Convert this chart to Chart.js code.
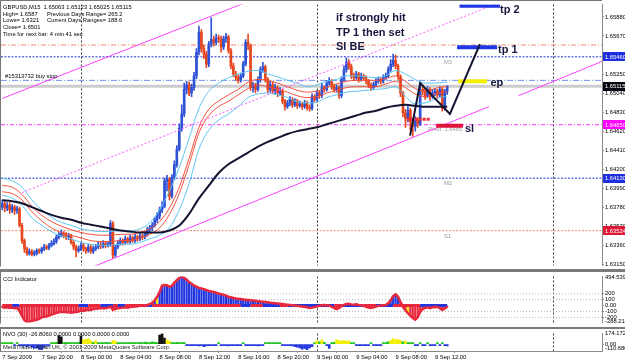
<!DOCTYPE html>
<html><head><meta charset="utf-8">
<script src="https://cdn.jsdelivr.net/npm/chart.js@4.4.1/dist/chart.umd.min.js"></script>
<style>
html,body{margin:0;padding:0;background:#fff;overflow:hidden;}
#wrap{position:relative;width:625px;height:362px;background:#fff;overflow:hidden;}
canvas{position:absolute;left:0;display:block;}
.sep{position:absolute;left:0;width:625px;background:#7b7b7b;}
</style></head>
<body><div id="wrap">
<canvas id="cMain" width="625" height="270" style="top:0"></canvas>
<div class="sep" style="top:269px;height:3px"></div>
<canvas id="cCci" width="625" height="55" style="top:272px"></canvas>
<div class="sep" style="top:327px;height:2px"></div>
<canvas id="cNvo" width="625" height="33" style="top:329px"></canvas>
</div>
<script>
// ================= DATA =================
const timeLabels = ['7 Sep 2009','7 Sep 20:00','8 Sep 00:00','8 Sep 04:00','8 Sep 08:00','8 Sep 12:00','8 Sep 16:00','8 Sep 20:00','9 Sep 00:00','9 Sep 04:00','9 Sep 08:00','9 Sep 12:00'];
const priceTicks = [1.65880,1.65670,1.65460,1.65250,1.65040,1.64830,1.64620,1.64410,1.64200,1.63990,1.63780,1.63570,1.63360,1.63150];
const daySeparators = [32,128,224];

const opens = [
1.6378,1.6382,1.6377,1.6380,1.6375,1.6378,1.6374,1.6376,1.6358,1.6341,
1.6332,1.6327,1.6329,1.6326,1.6327,1.6330,1.6329,1.6332,1.6334,1.6333,
1.6336,1.6338,1.6340,1.6345,1.6347,1.6349,1.6347,1.6345,1.6346,1.6339,
1.6334,1.6330,1.6332,1.6336,1.6332,1.6330,1.6334,1.6329,1.6332,1.6334,
1.6336,1.6335,1.6338,1.6336,1.6337,1.6360,1.6325,1.6334,1.6338,1.6341,
1.6339,1.6343,1.6340,1.6344,1.6341,1.6345,1.6343,1.6346,1.6345,1.6348,
1.6353,1.6355,1.6358,1.6364,1.6368,1.6375,1.6379,1.6407,1.6409,1.6390,
1.6411,1.6425,1.6442,1.6465,1.6481,1.6508,1.6513,1.6504,1.6510,1.6523,
1.6549,1.6571,1.6553,1.6547,1.6536,1.6558,1.6563,1.6560,1.6565,1.6564,
1.6555,1.6564,1.6566,1.6551,1.6534,1.6525,1.6521,1.6518,1.6523,1.6536,
1.6560,1.6556,1.6510,1.6513,1.6508,1.6519,1.6530,1.6533,1.6519,1.6508,
1.6513,1.6506,1.6510,1.6504,1.6506,1.6495,1.6489,1.6493,1.6497,1.6491,
1.6495,1.6490,1.6492,1.6489,1.6493,1.6488,1.6487,1.6500,1.6497,1.6504,
1.6501,1.6510,1.6508,1.6515,1.6517,1.6511,1.6508,1.6510,1.6501,1.6519,
1.6530,1.6538,1.6533,1.6523,1.6521,1.6525,1.6519,1.6523,1.6521,1.6517,
1.6513,1.6510,1.6513,1.6517,1.6519,1.6517,1.6521,1.6523,1.6530,1.6536,
1.6540,1.6534,1.6522,1.6504,1.6482,1.6476,1.6485,1.6472,1.6467,1.6474,
1.6470,1.6508,1.6506,1.6501,1.6508,1.6500,1.6504,1.6506,1.6502,1.6508,
1.6487,1.6506];
const highs = [
1.6386,1.6385,1.6383,1.6383,1.6381,1.6380,1.6379,1.6378,1.6360,1.6343,
1.6334,1.6332,1.6331,1.6330,1.6332,1.6332,1.6334,1.6337,1.6336,1.6338,
1.6341,1.6343,1.6347,1.6350,1.6353,1.6351,1.6350,1.6349,1.6348,1.6341,
1.6336,1.6335,1.6339,1.6338,1.6334,1.6337,1.6336,1.6335,1.6337,1.6339,
1.6339,1.6341,1.6340,1.6340,1.6363,1.6362,1.6336,1.6341,1.6344,1.6343,
1.6346,1.6345,1.6347,1.6346,1.6348,1.6347,1.6349,1.6348,1.6351,1.6356,
1.6358,1.6361,1.6367,1.6372,1.6378,1.6384,1.6410,1.6413,1.6411,1.6414,
1.6429,1.6446,1.6470,1.6491,1.6515,1.6517,1.6516,1.6514,1.6527,1.6553,
1.6578,1.6574,1.6557,1.6550,1.6561,1.6587,1.6567,1.6569,1.6568,1.6567,
1.6567,1.6570,1.6568,1.6553,1.6537,1.6528,1.6524,1.6526,1.6539,1.6563,
1.6569,1.6558,1.6516,1.6515,1.6522,1.6533,1.6538,1.6535,1.6521,1.6517,
1.6516,1.6514,1.6512,1.6510,1.6508,1.6497,1.6496,1.6500,1.6499,1.6498,
1.6497,1.6495,1.6494,1.6496,1.6495,1.6491,1.6503,1.6502,1.6507,1.6506,
1.6515,1.6512,1.6518,1.6521,1.6519,1.6514,1.6513,1.6512,1.6522,1.6534,
1.6543,1.6541,1.6536,1.6526,1.6528,1.6527,1.6526,1.6525,1.6523,1.6519,
1.6515,1.6516,1.6520,1.6522,1.6521,1.6524,1.6526,1.6533,1.6541,1.6547,
1.6546,1.6536,1.6524,1.6506,1.6486,1.6489,1.6487,1.6475,1.6478,1.6477,
1.6512,1.6513,1.6509,1.6511,1.6510,1.6508,1.6509,1.6508,1.6511,1.6510,
1.6508,1.65123];
const lows = [
1.6375,1.6373,1.6374,1.6371,1.6372,1.6370,1.6371,1.6356,1.6338,1.6328,
1.6325,1.6325,1.6324,1.6324,1.6325,1.6327,1.6327,1.6330,1.6331,1.6331,
1.6334,1.6336,1.6338,1.6343,1.6345,1.6344,1.6342,1.6342,1.6337,1.6331,
1.6323,1.6328,1.6330,1.6329,1.6327,1.6328,1.6327,1.6327,1.6330,1.6332,
1.6332,1.6333,1.6333,1.6334,1.6335,1.6321,1.6323,1.6332,1.6336,1.6336,
1.6337,1.6338,1.6338,1.6339,1.6339,1.6340,1.6341,1.6342,1.6343,1.6346,
1.6350,1.6352,1.6356,1.6361,1.6365,1.6372,1.6377,1.6396,1.6386,1.6388,
1.6408,1.6422,1.6440,1.6462,1.6478,1.6503,1.6501,1.6500,1.6507,1.6520,
1.6546,1.6549,1.6542,1.6532,1.6533,1.6555,1.6556,1.6557,1.6560,1.6549,
1.6552,1.6560,1.6548,1.6531,1.6522,1.6518,1.6515,1.6516,1.6521,1.6534,
1.6552,1.6507,1.6505,1.6504,1.6506,1.6516,1.6527,1.6516,1.6504,1.6505,
1.6503,1.6503,1.6500,1.6501,1.6492,1.6485,1.6487,1.6490,1.6488,1.6489,
1.6487,1.6488,1.6486,1.6487,1.6485,1.6484,1.6485,1.6494,1.6495,1.6498,
1.6499,1.6505,1.6506,1.6513,1.6508,1.6505,1.6505,1.6498,1.6499,1.6517,
1.6527,1.6530,1.6520,1.6518,1.6519,1.6516,1.6517,1.6518,1.6514,1.6510,
1.6507,1.6508,1.6511,1.6515,1.6514,1.6515,1.6519,1.6521,1.6528,1.6533,
1.6531,1.6519,1.6500,1.6478,1.6466,1.6472,1.6463,1.6456,1.6462,1.6466,
1.6468,1.6502,1.6497,1.6499,1.6496,1.6498,1.6501,1.6499,1.6500,1.6484,
1.6485,1.65025];
const closes = [
1.6382,1.6377,1.6380,1.6375,1.6378,1.6374,1.6376,1.6358,1.6341,1.6332,
1.6327,1.6329,1.6326,1.6327,1.6330,1.6329,1.6332,1.6334,1.6333,1.6336,
1.6338,1.6340,1.6345,1.6347,1.6349,1.6347,1.6345,1.6346,1.6339,1.6334,
1.6330,1.6332,1.6336,1.6332,1.6330,1.6334,1.6329,1.6332,1.6334,1.6336,
1.6335,1.6338,1.6336,1.6337,1.6360,1.6325,1.6334,1.6338,1.6341,1.6339,
1.6343,1.6340,1.6344,1.6341,1.6345,1.6343,1.6346,1.6345,1.6348,1.6353,
1.6355,1.6358,1.6364,1.6368,1.6375,1.6379,1.6407,1.6409,1.6390,1.6411,
1.6425,1.6442,1.6465,1.6481,1.6508,1.6513,1.6504,1.6510,1.6523,1.6549,
1.6571,1.6553,1.6547,1.6536,1.6558,1.6563,1.6560,1.6565,1.6564,1.6555,
1.6564,1.6566,1.6551,1.6534,1.6525,1.6521,1.6518,1.6523,1.6536,1.6560,
1.6556,1.6510,1.6513,1.6508,1.6519,1.6530,1.6533,1.6519,1.6508,1.6513,
1.6506,1.6510,1.6504,1.6506,1.6495,1.6489,1.6493,1.6497,1.6491,1.6495,
1.6490,1.6492,1.6489,1.6493,1.6488,1.6487,1.6500,1.6497,1.6504,1.6501,
1.6510,1.6508,1.6515,1.6517,1.6511,1.6508,1.6510,1.6501,1.6519,1.6530,
1.6538,1.6533,1.6523,1.6521,1.6525,1.6519,1.6523,1.6521,1.6517,1.6513,
1.6510,1.6513,1.6517,1.6519,1.6517,1.6521,1.6523,1.6530,1.6536,1.6540,
1.6534,1.6522,1.6504,1.6482,1.6476,1.6485,1.6472,1.6467,1.6474,1.6470,
1.6508,1.6506,1.6501,1.6508,1.6500,1.6504,1.6506,1.6502,1.6508,1.6487,
1.6506,1.65115];

// indicator lines, read every 4th bar
const maIndex = [0,4,8,12,16,20,24,28,32,36,40,44,48,52,56,60,64,68,72,76,80,84,88,92,96,100,104,108,112,116,120,124,128,132,136,140,144,148,152,156,160,164,168,172,176,180,181];
const maBlack = [1.63855,1.63845,1.63823,1.63780,1.63737,1.63694,1.63662,1.63640,1.63608,1.63586,1.63565,1.63543,1.63522,1.63511,1.63500,1.63500,1.63500,1.63522,1.63576,1.63705,1.63877,1.64017,1.64157,1.64254,1.64318,1.64383,1.64447,1.64501,1.64544,1.64587,1.64619,1.64641,1.64662,1.64695,1.64727,1.64759,1.64792,1.64824,1.64845,1.64878,1.64899,1.64910,1.64899,1.64888,1.64888,1.64888,1.64888];
const maRedUpper = [1.6402,1.6400,1.6392,1.6379,1.6369,1.6362,1.6357,1.6353,1.6350,1.6348,1.6347,1.6347,1.6348,1.6348,1.6350,1.6354,1.6362,1.6377,1.6400,1.6432,1.6466,1.6486,1.6495,1.6502,1.6508,1.6516,1.6519,1.6518,1.6515,1.6511,1.6507,1.6505,1.6506,1.6510,1.6514,1.6517,1.6518,1.6518,1.6518,1.6520,1.6523,1.6517,1.6509,1.6506,1.6509,1.6511,1.6511];
const maRedLower = [1.6395,1.6393,1.6386,1.6373,1.6363,1.6355,1.6350,1.6347,1.6344,1.6341,1.6340,1.6340,1.6341,1.6341,1.6344,1.6348,1.6355,1.6370,1.6393,1.6425,1.6460,1.6479,1.6489,1.6495,1.6502,1.6509,1.6513,1.6511,1.6508,1.6505,1.6501,1.6499,1.6500,1.6504,1.6507,1.6510,1.6511,1.6511,1.6511,1.6514,1.6517,1.6510,1.6503,1.6500,1.6503,1.6505,1.6505];
const bandUpper = [1.6410,1.6407,1.6400,1.6386,1.6375,1.6367,1.6361,1.6358,1.6354,1.6352,1.6351,1.6351,1.6352,1.6352,1.6354,1.6361,1.6375,1.6396,1.6422,1.6454,1.6487,1.6506,1.6515,1.6521,1.6525,1.6528,1.6529,1.6525,1.6522,1.6518,1.6515,1.6511,1.6513,1.6517,1.6519,1.6523,1.6523,1.6522,1.6521,1.6523,1.6529,1.6525,1.6519,1.6515,1.6515,1.6516,1.6516];
const bandLower = [1.6391,1.6388,1.6380,1.6366,1.6358,1.6351,1.6346,1.6343,1.6339,1.6337,1.6336,1.6336,1.6337,1.6337,1.6339,1.6343,1.6347,1.6355,1.6375,1.6404,1.6442,1.6463,1.6474,1.6481,1.6489,1.6499,1.6503,1.6504,1.6502,1.6499,1.6494,1.6493,1.6494,1.6499,1.6502,1.6505,1.6506,1.6507,1.6508,1.6509,1.6511,1.6500,1.6492,1.6493,1.6497,1.6500,1.6500];

// horizontal levels
const levelR = 1.6557, levelM3 = 1.6544, levelBuyStop = 1.6518, levelBid = 1.65115;
const levelPivot = 1.6469, levelM2 = 1.6410, levelS1 = 1.6352;
const priceBoxLabels = ['1.65460','1.65115','1.64650','1.64130','1.63524'];

// drawn objects [bar, price]
const trendUpper  = [[0,1.6498],[100,1.6605]];
const trendLowerA = [[35,1.6310],[198,1.6489]];
const trendLowerB = [[210,1.6501],[244,1.6539]];
const trendMid    = [[8,1.6394],[205,1.6607]];
const tp2Line = [[186,1.6600],[202.5,1.6600]];
const tp1Line = [[185,1.65545],[201.3,1.65545]];
const epLine  = [[185.4,1.6517],[197.2,1.6517]];
const slLine  = [[176.5,1.6468],[187.4,1.6468]];
const pendingMark = [[164.5,1.6475],[174,1.6475]];
const pathLine = [[165.9,1.6457],[170,1.6515],[182.1,1.6481],[194.3,1.6558]];

// CCI
const cci = [
-30,-35,-30,-40,-35,-45,-40,-90,-170,-250,
-280,-275,-265,-250,-240,-225,-200,-190,-185,-170,
-155,-140,-125,-115,-105,-110,-115,-110,-120,-115,
-110,-100,-85,-90,-80,-70,-75,-60,-55,-50,
-45,-40,-45,-35,-20,-75,-55,-45,-40,-35,
-30,-35,-25,-20,-15,-10,-5,5,-5,10,
25,45,90,150,230,340,350,345,320,335,
390,430,470,490,470,440,400,370,340,320,
300,290,280,265,250,240,230,220,205,195,
185,170,150,140,130,120,115,110,105,100,
95,90,85,80,75,70,65,60,55,50,
45,40,35,30,25,20,15,10,5,0,
-5,-10,-15,-20,-30,-40,-35,-25,-15,-5,
5,10,5,0,-20,-45,-60,-40,-10,10,
25,30,20,15,20,10,5,-5,-20,-35,
-40,-30,-15,-5,0,5,10,40,90,160,
190,150,60,-20,-80,-130,-170,-210,-240,-200,
-110,-60,-40,-30,-45,-25,-30,-20,-45,-75,
-50,-20];
const cciMax = 494.5399, cciMin = -288.214;
const cciTicks = [200,100,0,-100,-200];
const cciLevels = [200,100,-100,-200];
const cciBandBlue = [[4,6],[31,34],[40,44],[47,49],[58,60],[97,100],[106,112],[116,134],[138,146],[152,158],[170,181]];
const cciYellow = [63,165];

// NVO
const nvo = [
10,5,15,25,10,-10,5,-20,-30,-15,
-40,-25,-50,-70,-60,-85,-90,-50,-30,-20,
10,20,30,140,120,20,30,10,5,10,
15,30,130,70,80,90,60,30,60,20,
20,15,30,10,20,60,50,20,5,15,
10,20,25,30,15,20,30,25,35,30,
20,40,30,25,150,174,100,70,50,25,
20,30,15,10,20,-10,-20,-15,-25,-10,
-30,-20,-40,-30,-20,-25,-10,-15,5,-20,
-15,-25,-30,-20,-15,-10,-20,-15,5,-10,
-20,-15,-25,-20,-30,-15,-10,5,10,5,
10,15,10,5,-10,-20,-15,-25,-30,-40,
-50,-60,-80,-70,-90,-60,-40,20,60,40,
70,30,-20,-70,20,30,70,60,50,60,
45,55,20,10,-10,-20,-15,-25,-20,-10,
5,-15,-20,-10,-5,10,20,40,60,90,
70,80,60,40,50,25,10,15,-10,-20,
10,-15,-20,5,-25,-15,-10,5,-20,10,
-15,-26.806];
const nvoMax = 174.172, nvoMin = -110.680;

// ================= STYLE / BUILD =================
const FONT = '"Liberation Sans", Arial, sans-serif';
const SMALL = 5.8;
const XMIN = -0.53, XMAX = 243.97;
const BLUE = '#2e52d6', RED = '#e5461c';
const N = closes.length;
const idx = closes.map((_, i) => i);
const pts = arr => arr.map(([x, y]) => ({x, y}));
const hl = p => [{x: XMIN, y: p}, {x: XMAX, y: p}];
function lineDS(data, color, width, dash, order, extra) {
  return Object.assign({type: 'line', data, borderColor: color, borderWidth: width, borderDash: dash || [],
    pointRadius: 0, fill: false, tension: 0, clip: 0, order}, extra || {});
}
const maData = arr => maIndex.map((x, k) => ({x, y: arr[k]}));
const smooth = {cubicInterpolationMode: 'monotone'};

function rightAxis(min, max, tickVals, fmt) {
  return {
    type: 'linear', position: 'right', min, max,
    afterFit(s) { s.width = 23; },
    afterBuildTicks(s) { s.ticks = tickVals.map(v => ({value: v})); },
    ticks: {autoSkip: false, padding: 1, color: '#000', font: {family: FONT, size: SMALL}, callback: fmt},
    grid: {drawOnChartArea: false, drawTicks: true, tickLength: 2, color: '#909090'},
    border: {display: true, color: '#8a8a8a', width: 1}
  };
}
const hiddenX = {type: 'linear', min: XMIN, max: XMAX, offset: false, display: false, grid: {display: false}};

function separators(chart) {
  const {ctx, chartArea: a, scales: {x}} = chart;
  ctx.save();
  ctx.strokeStyle = '#3c3c3c'; ctx.lineWidth = 1; ctx.setLineDash([2, 2]);
  daySeparators.forEach(b => {
    const px = Math.round(x.getPixelForValue(b)) + 0.5;
    ctx.beginPath(); ctx.moveTo(px, a.top); ctx.lineTo(px, a.bottom); ctx.stroke();
  });
  ctx.setLineDash([]);
  ctx.strokeStyle = '#777'; 
  ctx.beginPath(); ctx.moveTo(0.5, 0); ctx.lineTo(0.5, a.bottom + 1); ctx.stroke();
  ctx.restore();
}
function txt(ctx, s, x, y, font, color, base) {
  ctx.font = font; ctx.fillStyle = color; ctx.textBaseline = base || 'alphabetic'; ctx.textAlign = 'left';
  ctx.fillText(s, x, y);
}
const smallFont = `${SMALL}px ${FONT}`;
const boldFont = `bold 11px ${FONT}`;
const NAVY = '#16163e';

// ---------- MAIN CHART ----------
const mainDatasets = [
  lineDS(hl(levelR), '#f08a70', 1, [5, 2, 1, 2], 100),
  lineDS(hl(levelM3), '#2430d8', 1, [2, 1.5], 100),
  lineDS(hl(levelBuyStop), '#6f8fec', 1, [6, 2, 1, 2], 100),
  lineDS(hl(levelBid), '#cdcdcd', 3, [], 100),
  lineDS(hl(levelPivot), '#ff38ff', 1, [4, 2, 1, 2], 100),
  lineDS(hl(levelM2), '#2430d8', 1, [2, 1.5], 100),
  lineDS(hl(levelS1), '#f08a70', 1, [2, 1.5], 100),
  {type: 'bar', data: idx.map(i => ({x: i, y: [lows[i], highs[i]]})),
   backgroundColor: idx.map(i => closes[i] >= opens[i] ? BLUE : RED),
   barThickness: 1, grouped: false, borderWidth: 0, order: 70},
  {type: 'bar', data: idx.map(i => ({x: i, y: [opens[i], closes[i]]})),
   backgroundColor: idx.map(i => closes[i] >= opens[i] ? BLUE : RED),
   barThickness: 2, minBarLength: 1, grouped: false, borderWidth: 0, order: 65},
  lineDS(maData(bandUpper), '#5cc6f2', 1, [], 50, smooth),
  lineDS(maData(bandLower), '#5cc6f2', 1, [], 50, smooth),
  lineDS(maData(maRedUpper), '#f0503c', 1, [], 48, smooth),
  lineDS(maData(maRedLower), '#f0503c', 1, [], 48, smooth),
  lineDS(maData(maBlack), '#141430', 2, [], 46, smooth),
  lineDS(pts(trendUpper), '#ff40ff', 1, [], 40),
  lineDS(pts(trendLowerA), '#ff40ff', 1, [], 40),
  lineDS(pts(trendLowerB), '#ff40ff', 1, [], 40),
  lineDS(pts(trendMid), '#ff5cff', 1, [2, 2], 40),
  lineDS(pts(pendingMark), '#e83038', 3, [3, 1], 30),
  lineDS(pts(tp2Line), '#1f36e6', 3.5, [], 20),
  lineDS(pts(tp1Line), '#1f36e6', 4, [], 20),
  lineDS(pts(epLine), '#f4ee00', 4, [], 20),
  lineDS(pts(slLine), '#e0143c', 4, [], 20),
  lineDS(pts(pathLine), '#141430', 2, [], 10)
];

const mainPlugin = {
  id: 'mainDeco',
  beforeDatasetsDraw(chart) {
    separators(chart);
    const {ctx, scales: {x, y}} = chart;
    ctx.save();
    const lx = x.getPixelForValue(179.7);
    txt(ctx, 'M3', lx, y.getPixelForValue(levelM3) + 7, smallFont, '#9a9a9a');
    txt(ctx, 'M2', lx, y.getPixelForValue(levelM2) + 7, smallFont, '#9a9a9a');
    txt(ctx, 'S1', lx, y.getPixelForValue(levelS1) + 7, smallFont, '#9a9a9a');
    txt(ctx, 'Pivot  1.6465', x.getPixelForValue(173.3), y.getPixelForValue(levelPivot) + 6.5, smallFont, '#9a9a9a');
    ctx.restore();
  },
  afterDatasetsDraw(chart) {
    const {ctx} = chart;
    ctx.save();
    txt(ctx, 'GBPUSD,M15  1.65063 1.65123 1.65025 1.65115', 3, 8.5, smallFont, '#000');
    txt(ctx, 'High= 1.6587', 3, 15.5, smallFont, '#000');
    txt(ctx, 'Previous Days Range= 265.2', 47, 15.5, smallFont, '#000');
    txt(ctx, 'Lows= 1.6321', 3, 22, smallFont, '#000');
    txt(ctx, 'Current Days Ranges= 188.6', 47, 22, smallFont, '#000');
    txt(ctx, 'Close= 1.6501', 3, 29, smallFont, '#000');
    txt(ctx, 'Time for next bar: 4 min 41 sec', 3, 36, smallFont, '#000');
    txt(ctx, '#15313732 buy stop', 5, 77.5, smallFont, '#000');
    txt(ctx, 'if strongly hit', 336, 21, boldFont, NAVY);
    txt(ctx, 'TP 1 then set', 336, 35.5, boldFont, NAVY);
    txt(ctx, 'Sl BE', 336, 50, boldFont, NAVY);
    txt(ctx, 'tp 2', 500, 12.5, boldFont, NAVY);
    txt(ctx, 'tp 1', 498, 52.5, boldFont, NAVY);
    txt(ctx, 'ep', 490.5, 86, boldFont, NAVY);
    txt(ctx, 'sl', 465, 132, boldFont, NAVY);
    ctx.restore();
  },
  afterDraw(chart) {
    const {ctx, scales: {y}, chartArea: a} = chart;
    ctx.save();
    ctx.strokeStyle = '#777'; ctx.lineWidth = 1;
    ctx.beginPath(); ctx.moveTo(0, 0.5); ctx.lineTo(a.right, 0.5); ctx.stroke();
    const boxes = [[levelM3, '#1f2fe0'], [levelBid, '#050510'], [levelPivot, '#ff00ff'], [levelM2, '#1f2fe0'], [levelS1, '#e01838']];
    boxes.forEach(([p, c], k) => {
      const py = y.getPixelForValue(p);
      ctx.fillStyle = c; ctx.fillRect(a.right + 1, Math.round(py - 4.5), 22, 9);
      txt(ctx, priceBoxLabels[k], a.right + 3, py + 0.5, smallFont, '#fff', 'middle');
    });
    ctx.restore();
  }
};

new Chart(document.getElementById('cMain'), {
  type: 'bar',
  data: {datasets: mainDatasets},
  options: {
    responsive: false, maintainAspectRatio: false, animation: false, events: [],
    layout: {padding: {left: 1, top: 1, bottom: 1, right: 0}},
    plugins: {legend: {display: false}, tooltip: {enabled: false}},
    scales: {x: hiddenX, y: rightAxis(1.63135, 1.66018, priceTicks, v => Number(v).toFixed(5))}
  },
  plugins: [mainPlugin]
});

// ---------- CCI ----------
const CCI_BLUE = '#2236e0', CCI_RED = '#e8283c';
const inBand = i => cciBandBlue.some(([a, b]) => i >= a && i <= b);
const cciDatasets = [
  ...cciLevels.map(l => lineDS(hl(l), '#b4b4b4', 1, [1, 2], 100)),
  {type: 'bar', data: idx.map(i => ({x: i, y: cci[i]})),
   backgroundColor: idx.map(i => cciYellow.includes(i) ? '#f0e800' : (cci[i] >= 0 ? CCI_BLUE : CCI_RED)),
   barThickness: 1.5, grouped: false, borderWidth: 0, order: 60},
  lineDS(idx.map(i => ({x: i, y: 0})), CCI_RED, 3, [], 50,
    {segment: {borderColor: c => inBand(c.p0DataIndex) ? CCI_BLUE : CCI_RED}}),
  lineDS(idx.map(i => ({x: i, y: cci[i]})), CCI_RED, 2.5, [], 40)
];
new Chart(document.getElementById('cCci'), {
  type: 'bar',
  data: {datasets: cciDatasets},
  options: {
    responsive: false, maintainAspectRatio: false, animation: false, events: [],
    layout: {padding: {left: 1, top: 1, bottom: 1, right: 0}},
    plugins: {legend: {display: false}, tooltip: {enabled: false}},
    scales: {x: hiddenX, y: rightAxis(cciMin, cciMax, cciTicks, v => v === 0 ? '0.00' : String(v))}
  },
  plugins: [{
    id: 'cciDeco',
    beforeDatasetsDraw: separators,
    afterDraw(chart) {
      const {ctx, chartArea: a} = chart;
      ctx.save();
      txt(ctx, 'CCI Indicator', 3, 8.5, smallFont, '#000');
      txt(ctx, String(cciMax), a.right + 3, 5.5, smallFont, '#000', 'middle');
      txt(ctx, String(cciMin), a.right + 3, 49.5, smallFont, '#000', 'middle');
      ctx.restore();
    }
  }]
});

// ---------- NVO ----------
const nvoColor = v => v < 0 ? '#2438e0' : v < 45 ? '#22c422' : v < 100 ? '#f2ee00' : '#111';
new Chart(document.getElementById('cNvo'), {
  type: 'bar',
  data: {datasets: [
    {type: 'bar', data: idx.map(i => ({x: i, y: nvo[i]})), backgroundColor: idx.map(i => nvoColor(nvo[i])),
     barThickness: 2, minBarLength: 1.5, grouped: false, borderWidth: 0, order: 50}
  ]},
  options: {
    responsive: false, maintainAspectRatio: false, animation: false, events: [],
    layout: {padding: {left: 1, top: 1, bottom: 0, right: 0}},
    plugins: {legend: {display: false}, tooltip: {enabled: false}},
    scales: {
      x: {type: 'linear', min: XMIN, max: XMAX, offset: false, position: 'bottom',
        afterFit(s) { s.height = 11; },
        afterBuildTicks(s) { s.ticks = timeLabels.map((_, k) => ({value: k * 16})); },
        ticks: {autoSkip: false, maxRotation: 0, minRotation: 0, align: 'start', padding: 1, color: '#000',
          font: {family: FONT, size: SMALL}, callback: (v, k) => timeLabels[k]},
        grid: {drawOnChartArea: false, drawTicks: true, tickLength: 2, color: '#909090'},
        border: {display: true, color: '#8a8a8a'}},
      y: rightAxis(nvoMin, nvoMax, [0], v => '0.00')
    }
  },
  plugins: [{
    id: 'nvoDeco',
    beforeDatasetsDraw: separators,
    afterDraw(chart) {
      const {ctx, chartArea: a} = chart;
      ctx.save();
      txt(ctx, 'NVO (30) -26.8060 0.0000 0.0000 0.0000 0.0000', 3, 7, smallFont, '#000');
      txt(ctx, 'MetaTrader, Alpari UK, \u00a9 2001-2009 MetaQuotes Software Corp.', 3, 19.5, smallFont, '#222');
      txt(ctx, '174.172', a.right + 3, 4.5, smallFont, '#000', 'middle');
      txt(ctx, '-110.680', a.right + 3, 19, smallFont, '#000', 'middle');
      ctx.restore();
    }
  }]
});
</script>
</body></html>
